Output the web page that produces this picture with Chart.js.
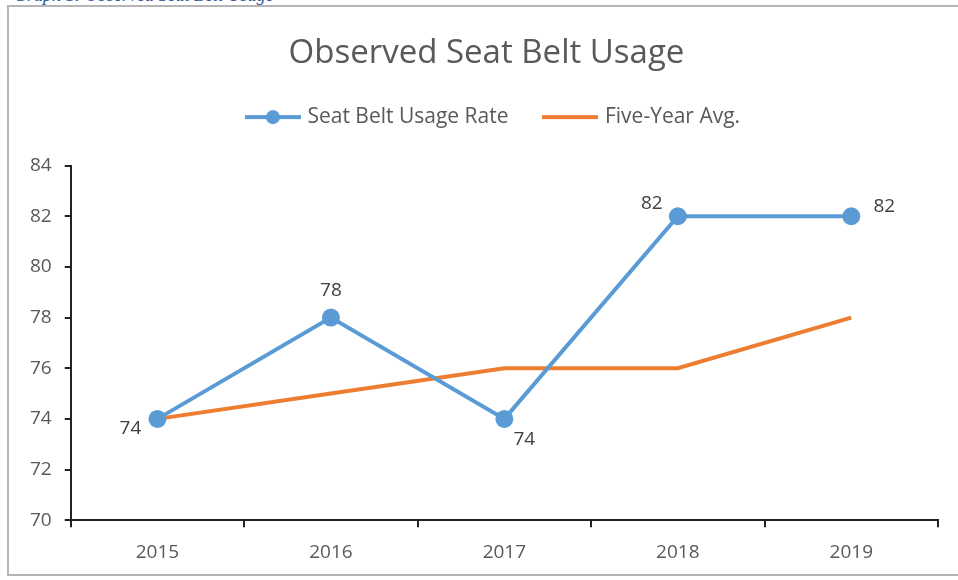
<!DOCTYPE html>
<html lang="en">
<head>
  <meta charset="UTF-8" />
  <title>Observed Seat Belt Usage</title>
  <script src="https://cdn.jsdelivr.net/npm/chart.js"></script>
  <style>
    body { margin: 0; background: #fff; overflow: hidden; }
    #caption { position: absolute; left: 14px; top: -15px; font: italic 18px "Liberation Serif", serif; color: #2e5597; }
    #box { position: absolute; left: 7px; top: 5px; width: 960px; height: 571px; border: 2px solid #b5b5b5; box-sizing: border-box; }
    #wrap { position: absolute; left: 0; top: 0; width: 956px; height: 575px; }
  </style>
</head>
<body>
  <div id="caption">Graph 1: Observed Seat Belt Usage</div>
  <div id="box"><div id="wrap"><canvas id="myChart"></canvas></div></div>

  <script>
    const years = ['2015', '2016', '2017', '2018', '2019'];
    const usageRate = [74, 78, 74, 82, 82];
    const fiveYearAvg = [74, 75, 76, 76, 78];
    const yTicks = [70, 72, 74, 76, 78, 80, 82, 84];

    const blue = '#5b9bd5';
    const orange = '#ed7d31';
    const grey = '#595959';
    const fontName = '"Open Sans", sans-serif';

    // legend icons: line with dot, plain line
    function makeIcon(color, withDot) {
      const c = document.createElement('canvas');
      c.width = 56; c.height = 20;
      const g = c.getContext('2d');
      g.strokeStyle = color; g.lineWidth = 4;
      g.beginPath(); g.moveTo(0, 10); g.lineTo(56, 10); g.stroke();
      if (withDot) {
        g.fillStyle = color;
        g.beginPath(); g.arc(28, 10, 7, 0, Math.PI * 2); g.fill();
      }
      return c;
    }

    // where each value label sits around its point
    const labelPos = ['left', 'above', 'right', 'aboveLeft', 'rightSide'];

    const valueLabels = {
      id: 'valueLabels',
      afterDatasetsDraw(chart) {
        const ctx = chart.ctx;
        const meta = chart.getDatasetMeta(0);
        ctx.save();
        ctx.font = '19px ' + fontName;
        ctx.fillStyle = '#404040';
        ctx.textAlign = 'center';
        ctx.textBaseline = 'middle';
        meta.data.forEach((pt, i) => {
          let dx = 0, dy = 0;
          switch (labelPos[i]) {
            case 'left': dx = -27; dy = 10; break;
            case 'above': dx = 0; dy = -27; break;
            case 'right': dx = 20; dy = 21; break;
            case 'aboveLeft': dx = -26; dy = -13; break;
            case 'rightSide': dx = 33; dy = -10; break;
          }
          ctx.fillText(String(usageRate[i]), pt.x + dx, pt.y + dy);
        });
        ctx.restore();
      }
    };

    // extra room under the legend, and nudge title/legend right like the original
    const legendGap = {
      id: 'legendGap',
      beforeInit(chart) {
        const fit = chart.legend.fit;
        chart.legend.fit = function () {
          fit.bind(chart.legend)();
          this.height += 28;
        };
      },
      afterLayout(chart) {
        chart.legend.left += 17;
        chart.legend.right += 17;
        chart.titleBlock.left += 9;
        chart.titleBlock.right += 9;
      }
    };

    const ctx = document.getElementById('myChart').getContext('2d');
    new Chart(ctx, {
      type: 'line',
      data: {
        labels: years,
        datasets: [{
          label: 'Seat Belt Usage Rate',
          data: usageRate,
          borderColor: blue,
          backgroundColor: blue,
          borderWidth: 4,
          pointRadius: 9,
          pointHoverRadius: 9,
          pointBackgroundColor: blue,
          pointBorderWidth: 0,
          tension: 0
        }, {
          label: 'Five-Year Avg.',
          data: fiveYearAvg,
          borderColor: orange,
          backgroundColor: orange,
          borderWidth: 4,
          pointRadius: 0,
          tension: 0
        }]
      },
      options: {
        responsive: true,
        maintainAspectRatio: false,
        animation: false,
        layout: { padding: { left: 8, right: 27, top: 27, bottom: 4 } },
        plugins: {
          title: {
            display: true,
            text: 'Observed Seat Belt Usage',
            color: grey,
            font: { family: fontName, size: 33, weight: 'normal' },
            padding: { top: 0, bottom: -5 }
          },
          legend: {
            labels: {
              color: grey,
              font: { family: fontName, size: 21 },
              usePointStyle: true,
              pointStyleWidth: 48,
              padding: 38,
              generateLabels(chart) {
                return chart.data.datasets.map((ds, i) => ({
                  text: ds.label,
                  fontColor: grey,
                  pointStyle: makeIcon(ds.borderColor, i === 0),
                  datasetIndex: i,
                  lineWidth: 0,
                  strokeStyle: 'transparent',
                  fillStyle: 'transparent'
                }));
              }
            }
          },
          tooltip: { enabled: false }
        },
        scales: {
          x: {
            offset: true,
            grid: {
              offset: true,
              drawOnChartArea: false,
              drawTicks: true,
              tickLength: 7,
              color: '#222',
              lineWidth: 2
            },
            border: { color: '#222', width: 2 },
            ticks: { color: grey, font: { family: fontName, size: 19 }, padding: 14 }
          },
          y: {
            min: 70,
            max: 84,
            afterBuildTicks(axis) {
              axis.ticks = yTicks.map(v => ({ value: v }));
            },
            grid: {
              drawOnChartArea: false,
              drawTicks: true,
              tickLength: 6,
              color: '#222',
              lineWidth: 2
            },
            border: { color: '#222', width: 2 },
            ticks: { color: grey, font: { family: fontName, size: 19 }, padding: 13 }
          }
        }
      },
      plugins: [valueLabels, legendGap]
    });
  </script>
</body>
</html>
